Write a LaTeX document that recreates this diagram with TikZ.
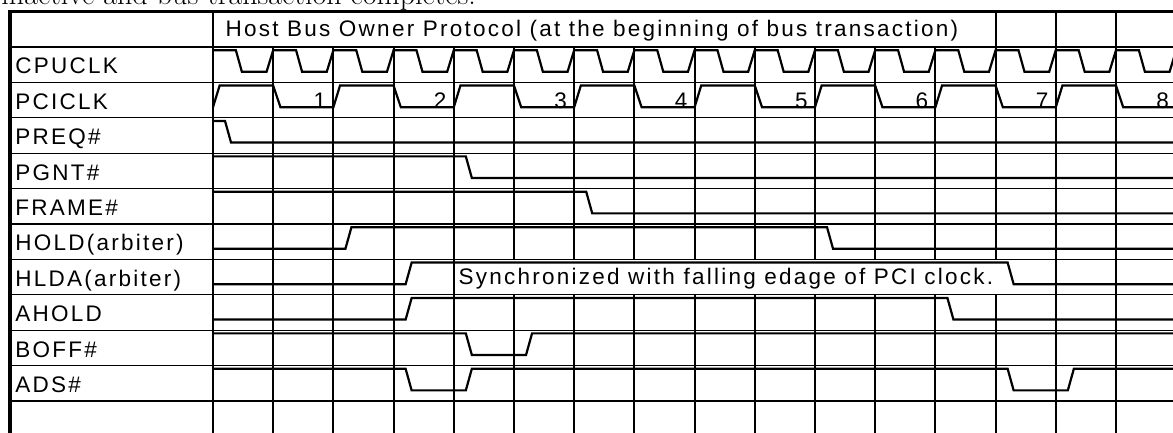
\documentclass[tikz,border=0pt]{standalone}
\usepackage{fontspec}
\newfontfamily\sigfont[LetterSpace=10]{Liberation Sans}
\tikzset{
	sig/.style={line width=1.1pt},
	rowline/.style={line width=0.6pt},
	colline/.style={line width=1pt},
	frameline/.style={line width=1.6pt},
	lbl/.style={anchor=base west, inner sep=0pt, font=\sigfont\fontsize{11.25}{13}\selectfont},
}
\begin{document}
\begin{tikzpicture}[x=30.1pt, y=-17.7pt]
		\path[use as bounding box] (-3.538,-1.328) rectangle (15.947,10.876);
		\clip (-3.538,-1.328) rectangle (15.947,10.876);
		\filldraw[white] (-3.538,-1.328) rectangle (15.947,10.876);

		\node[anchor=base west, inner sep=0pt, font=\fontsize{15}{18}\selectfont] (intro) at (-3.52,-1.19) {inactive and bus transaction completes.};

		\foreach \r in {0,...,10}
			\draw[rowline] (-3.372,\r) -- (16.5,\r);
		\draw[colline] (0,-1) -- (0,11);
		\foreach \c in {1,...,12}
			\draw[colline] (\c,0) -- (\c,11);
		\foreach \c in {13,...,16}
			\draw[colline] (\c,-1) -- (\c,11);
		\draw[frameline] (-3.372,11) -- (-3.372,-1) -- (16.5,-1);
		\fill[white] (4.03,6.03) rectangle (13.97,6.97);

		\node[lbl] (title) at (0.205,-0.29) {Host Bus Owner Protocol (at the beginning of bus transaction)};

		\node[lbl] (cpuclk) at (-3.29,0.76) {CPUCLK};
		\node[lbl] (pciclk) at (-3.29,1.76) {PCICLK};
		\node[lbl] (preq) at (-3.29,2.76) {PREQ\#};
		\node[lbl] (pgnt) at (-3.29,3.76) {PGNT\#};
		\node[lbl] (frame) at (-3.29,4.76) {FRAME\#};
		\node[lbl] (hold) at (-3.29,5.76) {HOLD(arbiter)};
		\node[lbl] (hlda) at (-3.29,6.76) {HLDA(arbiter)};
		\node[lbl] (ahold) at (-3.29,7.76) {AHOLD};
		\node[lbl] (boff) at (-3.29,8.76) {BOFF\#};
		\node[lbl] (ads) at (-3.29,9.76) {ADS\#};

		\draw[sig] (0,0.09) \foreach \n in {0,...,15} {-- (\n+0.38,0.09) -- (\n+0.48,0.70) -- (\n+0.89,0.70) -- (\n+1,0.09)};
		\draw[sig] (0,1.70) \foreach \k in {0,...,7} {-- (2*\k+0.11,1.09) -- (2*\k+1,1.09) -- (2*\k+1.12,1.70) -- (2*\k+2,1.70)};
		\foreach \k in {1,...,8}
			\node[lbl, anchor=base] (num\k) at (2*\k-0.225,1.735) {\k};

		\draw[sig] (0,2.09) -- (0.2,2.09) -- (0.3,2.70) -- (16.5,2.70);
		\draw[sig] (0,3.09) -- (4.2,3.09) -- (4.3,3.70) -- (16.5,3.70);
		\draw[sig] (0,4.09) -- (6.2,4.09) -- (6.3,4.70) -- (16.5,4.70);
		\draw[sig] (0,5.70) -- (2.2,5.70) -- (2.3,5.09) -- (10.2,5.09) -- (10.3,5.70) -- (16.5,5.70);
		\draw[sig] (0,6.70) -- (3.2,6.70) -- (3.3,6.09) -- (13.2,6.09) -- (13.3,6.70) -- (16.5,6.70);
		\draw[sig] (0,7.70) -- (3.2,7.70) -- (3.3,7.09) -- (12.2,7.09) -- (12.3,7.70) -- (16.5,7.70);
		\draw[sig] (0,8.09) -- (4.2,8.09) -- (4.3,8.70) -- (5.2,8.70) -- (5.3,8.09) -- (16.5,8.09);
		\draw[sig] (0,9.09) -- (3.2,9.09) -- (3.3,9.70) -- (4.2,9.70) -- (4.3,9.09) -- (13.2,9.09) -- (13.3,9.70) -- (14.2,9.70) -- (14.3,9.09) -- (16.5,9.09);

		\node[lbl] (sync) at (4.075,6.72) {Synchronized with falling edage of PCI clock.};

	\end{tikzpicture}
\end{document}
